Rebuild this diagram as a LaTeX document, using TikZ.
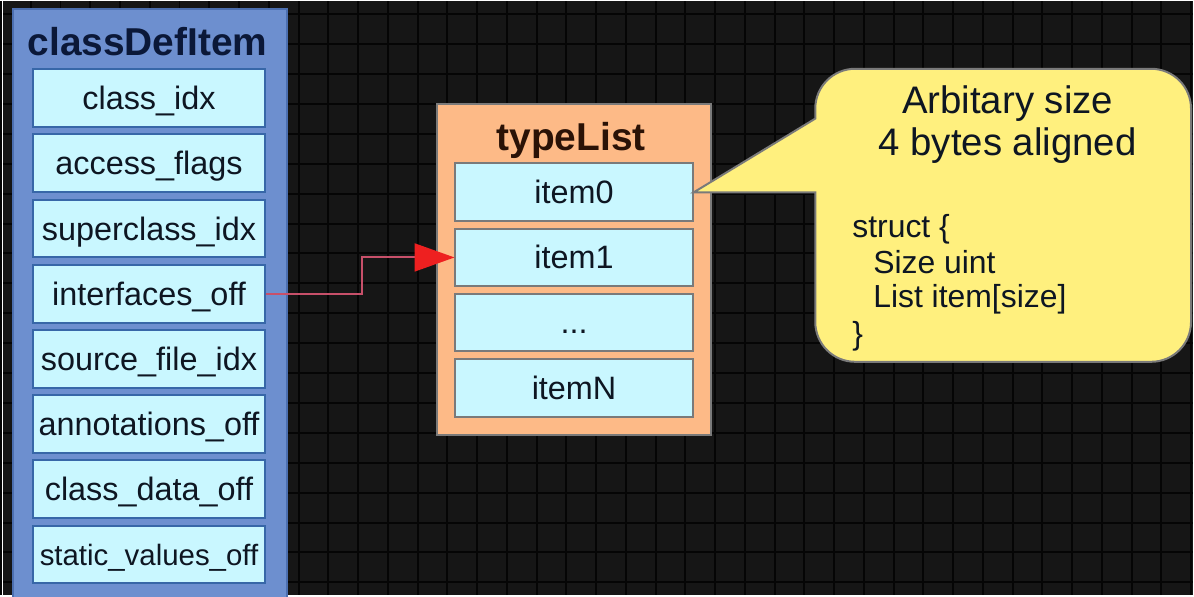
\documentclass[tikz,border=0pt]{standalone}
\usepackage{fontspec}
\setmainfont{Liberation Sans}
\usetikzlibrary{arrows.meta}

\definecolor{bgdark}{HTML}{161616}
\definecolor{gridline}{HTML}{050505}
\definecolor{classblue}{HTML}{6D8FCF}
\definecolor{classedge}{HTML}{4C6FB0}
\definecolor{cellfill}{HTML}{C9F7FF}
\definecolor{celledge}{HTML}{3767A8}
\definecolor{peach}{HTML}{FDBA87}
\definecolor{greyedge}{HTML}{7A7A7A}
\definecolor{calloutfill}{HTML}{FFF07E}
\definecolor{inktext}{HTML}{0E1622}
\definecolor{navytitle}{HTML}{0B1838}
\definecolor{browntitle}{HTML}{2A1206}
\definecolor{linkred}{HTML}{C8506A}
\definecolor{tipred}{HTML}{EE2020}

\begin{document}
\begin{tikzpicture}[x=1pt,y=-1pt,
  labelfont/.style={font=\fontsize{32.5}{36}\selectfont},
  titlefont/.style={font=\bfseries\fontsize{39}{44}\selectfont},
  classcell/.style={labelfont, draw=celledge, line width=2pt, fill=cellfill,
    text=inktext, minimum width=233pt, minimum height=58pt, inner sep=0pt,
    text height=23pt, text depth=0pt},
  listcell/.style={classcell, draw=greyedge, minimum width=238pt},
  notefont/.style={font=\fontsize{32}{36}\selectfont, text=inktext,
    anchor=base west, inner sep=0pt},
  conn/.style={draw=linkred, line width=2pt,
    -{Triangle[length=40pt,width=28pt,color=tipred]}},
]
% dark grid background
\fill[bgdark] (0,0) rectangle (1194,596);
\foreach \k in {0,...,40} {
  \draw[gridline, line width=2pt] ({-2+29.85*\k},0) -- ({-2+29.85*\k},596);
}
\foreach \k in {0,...,19} {
  \draw[gridline, line width=2pt] (0,{13.3+30*\k}) -- (1194,{13.3+30*\k});
}
\useasboundingbox (0,0) rectangle (1194,596);

% classDefItem record
\node[draw=classedge, line width=2pt, fill=classblue, minimum width=275pt,
  minimum height=600pt, inner sep=0pt] (classdef) at (147.5,308) {};
\node[titlefont, text=navytitle, anchor=base] (classtitle) at (145,55) {classDefItem};
\node[classcell] (cidx)   at (146.5,97.5)  {class\_idx};
\node[classcell] (aflags) at (146.5,162.9) {access\_flags};
\node[classcell] (sidx)   at (146.5,228.3) {superclass\_idx};
\node[classcell] (iface)  at (146.5,293.7) {interfaces\_off};
\node[classcell] (sfidx)  at (146.5,359.1) {source\_file\_idx};
\node[classcell] (annot)  at (146.5,424.5) {annotations\_off};
\node[classcell] (cdata)  at (146.5,489.9) {class\_data\_off};
\node[classcell, font=\fontsize{29.5}{36}\selectfont] (svals) at (146.5,555.3) {static\_values\_off};

% typeList record
\node[draw=greyedge, line width=2pt, fill=peach, minimum width=275pt,
  minimum height=332pt, inner sep=0pt] (typelist) at (572.5,269) {};
\node[titlefont, text=browntitle, anchor=base] (typetitle) at (570,150) {typeList};
\node[listcell] (item0) at (573,192)   {item0};
\node[listcell] (item1) at (573,257.3) {item1};
\node[listcell] (itemd) at (573,322.6) {...};
\node[listcell] (itemn) at (573,387.9) {itemN};

% link from interfaces_off to the list
\coordinate (jog) at (360,0);
\draw[conn] (iface.east) -- (iface.east -| jog) |- (item1.west);

% speech bubble attached to item0
\coordinate (btip) at (item0.east);
\filldraw[fill=calloutfill, draw=greyedge, line width=2pt]
  (btip) -- (815,118) [rounded corners=40pt] -- (815,68) -- (1192,68)
  -- (1192,362) -- (815,362) [sharp corners] -- (815,192) -- cycle;
\node[font=\fontsize{38.5}{44}\selectfont, text=inktext, anchor=base] (note1) at (1008,113) {Arbitary size};
\node[font=\fontsize{38.5}{44}\selectfont, text=inktext, anchor=base] (note2) at (1008,155) {4 bytes aligned};
\node[notefont] (s1) at (852,237) {struct \{};
\node[notefont] (s2) at (873,273) {Size uint};
\node[notefont] (s3) at (873,308) {List item[size]};
\node[notefont] (s4) at (852,345) {\}};
\end{tikzpicture}
\end{document}
